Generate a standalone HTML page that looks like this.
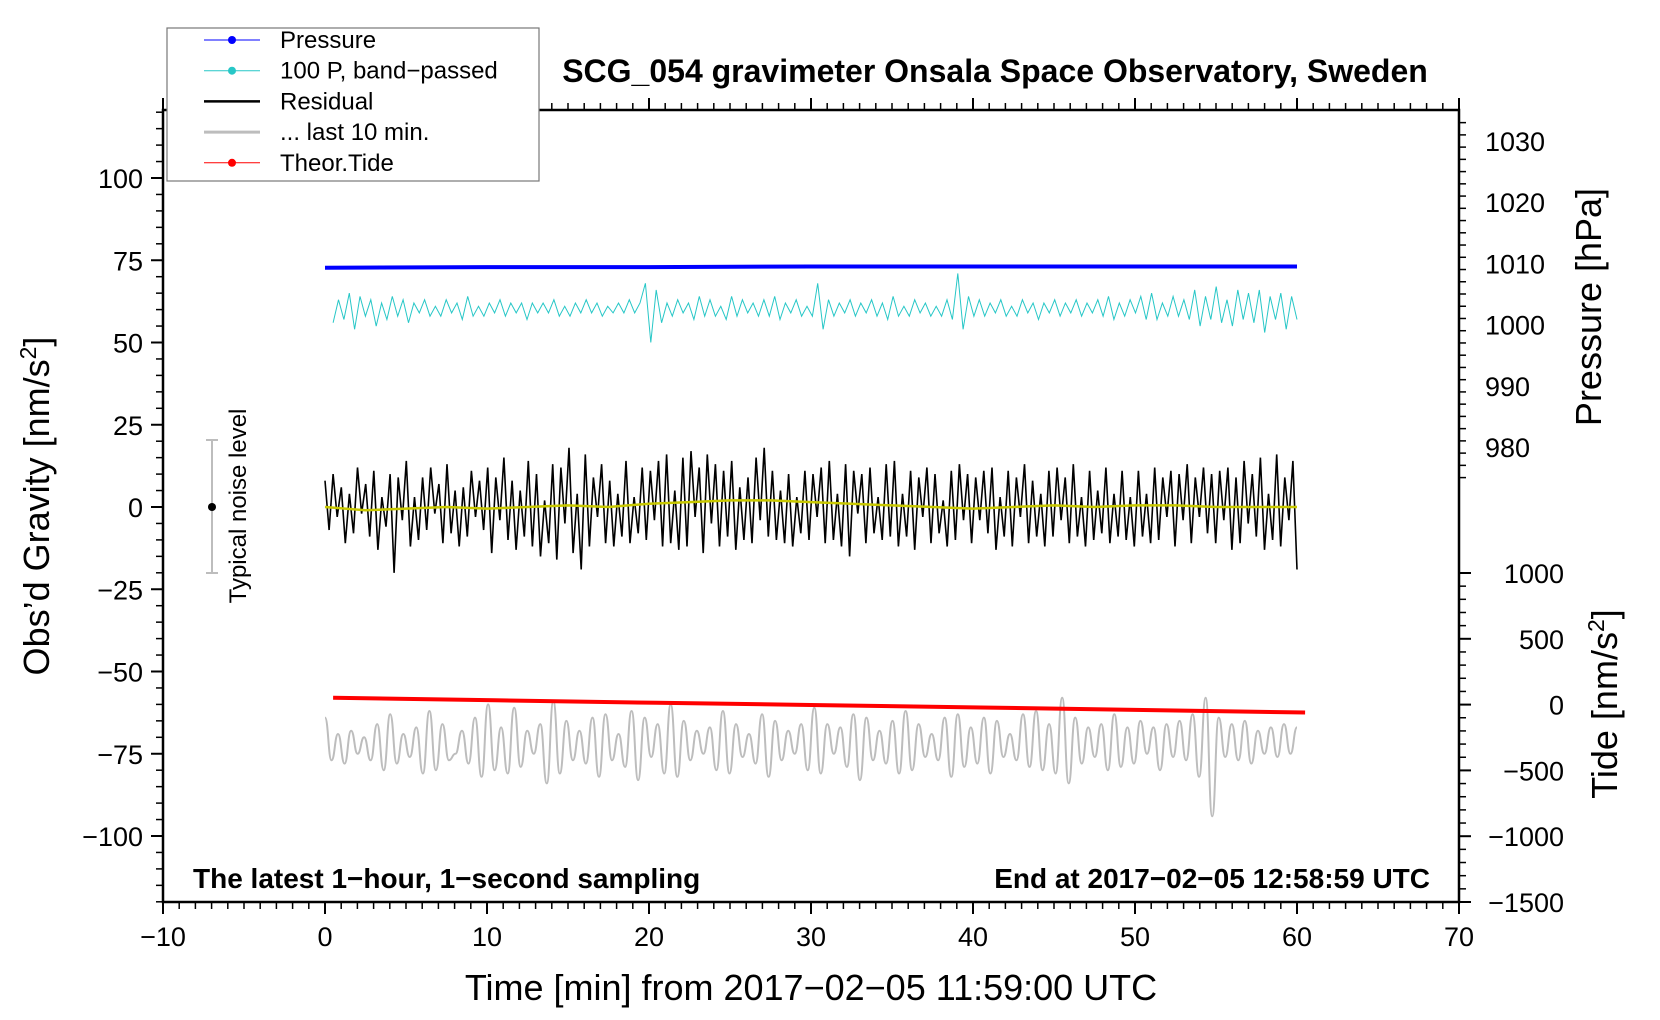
<!DOCTYPE html>
<html><head><meta charset="utf-8"><style>
html,body{margin:0;padding:0;background:#fff;}
svg{display:block;font-family:"Liberation Sans",Arial,sans-serif;}
</style></head><body>
<svg id="chart" width="1660" height="1020" viewBox="0 0 1660 1020">
<rect width="1660" height="1020" fill="#fff"/>
</svg>
<script>
// ----- data -----
const residual = [8,-7,10,-3,6,-11,4,-8,12,-2,7,-9,11,-13,3,-6,10,-20,9,-4,
14,-12,3,-10,9,-7,12,-2,7,-11,13,-8,5,-12,6,-9,11,-3,8,-7,
12,-14,9,-4,15,-10,8,-13,5,-9,14,-12,10,-15,2,-11,13,-16,12,-5,
18,-14,4,-19,16,-12,9,-3,13,-11,8,-12,4,-9,14,-11,3,-8,12,-10,
11,-4,14,-12,16,-11,5,-13,15,-12,17,-3,12,-14,16,-5,13,-12,11,-9,
14,-13,6,-10,9,-11,15,-4,18,-9,11,-10,5,-11,10,-12,3,-8,11,-10,
10,-3,12,-11,14,-10,4,-12,13,-15,11,-2,10,-11,12,-8,3,-10,13,-9,
14,-12,4,-9,11,-13,9,-3,12,-11,10,-8,2,-12,11,-10,13,-4,10,-11,
9,-4,11,-8,12,-13,3,-9,11,-12,9,-3,13,-11,8,-9,4,-12,11,-9,
12,-4,9,-11,13,-9,3,-12,11,-10,5,-8,12,-11,4,-9,11,-10,3,-12,
11,-9,4,-11,12,-10,9,-3,11,-12,10,-4,13,-11,9,-3,12,-8,10,-11,
11,-4,12,-13,9,-11,14,-5,10,-9,15,-13,4,-10,16,-12,9,-4,14,-19];
const smoothed = [0,-1,-0.5,0,-0.5,0,0.5,0,1,1.5,2,2,1.5,1,0.5,0,-0.5,0,0.5,0,0.5,0.5,0,0,0];
const bandPassed = [-4,3,-3,5,-6,4,-2,3,-5,2,-3,4,-2,3,-4,2,-1,3,-2,1,
-2,3,-1,2,-3,4,-2,1,-2,2,-1,3,-2,2,-1,2,-3,2,-1,2,
-1,3,-2,1,-2,2,-1,3,-1,2,-2,1,-1,2,-1,3,-1,2,8,-10,
6,-4,2,-2,3,-1,2,-3,4,-2,3,-2,1,-3,4,-2,3,-1,2,-2,
3,-2,4,-3,2,-1,3,-2,1,-2,8,-6,3,-2,2,-1,3,-2,2,-1,
3,-2,2,-3,4,-2,1,-2,3,-1,2,-2,1,-2,3,-3,11,-6,4,-2,
3,-2,2,-1,3,-2,1,-2,3,-1,2,-3,2,-1,3,-2,2,-1,3,-2,
2,-1,3,-2,4,-3,2,-2,3,-1,4,-3,5,-3,2,-2,4,-2,3,-3,
6,-5,4,-3,7,-4,3,-5,6,-3,5,-4,6,-7,4,-3,5,-6,4,-3];
const bandOffset = 60;
const last10 = [8,-5,3,-6,4,-3,2,-5,6,-8,9,-6,3,-4,5,-9,10,-8,6,-5,
-3,4,-6,8,-10,12,-8,5,-9,11,-7,4,-3,6,-12,13,-9,7,-5,4,
-6,8,-10,9,-5,3,-7,10,-11,8,-4,6,-9,12,-10,7,-5,4,-3,5,
-8,10,-9,6,-4,3,-6,9,-10,7,-5,4,-3,6,-8,11,-9,6,-3,5,
-7,9,-11,8,-5,4,-6,7,-9,10,-8,6,-4,3,-5,8,-10,9,-7,5,
-6,8,-9,7,-4,3,-5,9,-7,10,-8,6,-9,14,-12,8,-6,5,-4,6,
-8,9,-7,5,-6,7,-3,5,-8,6,-4,7,-5,9,-10,14,-22,8,-4,6,
-5,7,-6,4,-3,5,-4,6,-3,5];
const last10Offset = -72;
const pressure = [1009.3,1009.4,1009.4,1009.5,1009.5,1009.5,1009.5];
const pressureTimes = [0,10,20,30,40,50,60];
const tide = [52,33,14,-4,-22,-41,-60];
const tideTimes = [0.5,10.5,20.5,30.5,40.5,50.5,60.5];
const xTicks = [-10,0,10,20,30,40,50,60,70];
const yTicks = [100,75,50,25,0,-25,-50,-75,-100];
const pTicks = [980,990,1000,1010,1020,1030];
const tTicks = [1000,500,0,-500,-1000,-1500];

// ----- axes -----
const L=163,R=1459,T=110,B=902;
const X=t=>L+(t+10)*(R-L)/80;
const Y=v=>507-v*3.29;
const YP=p=>141+(1030-p)*6.12;
const YT=v=>704.6-v*0.1316;
const svg=document.getElementById('chart');
const NS='http://www.w3.org/2000/svg';
function el(tag,attrs,parent){const e=document.createElementNS(NS,tag);for(const k in attrs)e.setAttribute(k,attrs[k]);(parent||svg).appendChild(e);return e;}
function txt(s,attrs){const e=el('text',attrs);e.textContent=s;return e;}
function path(pts){return pts.map((p,i)=>(i?'L':'M')+p[0].toFixed(1)+','+p[1].toFixed(1)).join('');}
function smooth(pts){let d='M'+pts[0][0].toFixed(1)+','+pts[0][1].toFixed(1);
 for(let i=1;i<pts.length;i++){const a=pts[i-1],b=pts[i],mx=(a[0]+b[0])/2;d+='C'+mx.toFixed(1)+','+a[1].toFixed(1)+' '+mx.toFixed(1)+','+b[1].toFixed(1)+' '+b[0].toFixed(1)+','+b[1].toFixed(1);}return d;}

let e;
e=el('path',{d:smooth(last10.map((v,i)=>[X(i*60/(last10.length-1)),Y(last10Offset+v)])),fill:'none',stroke:'#bdbdbd','stroke-width':2});


e=el('path',{d:path(bandPassed.map((v,i)=>[X(0.5+i*59.5/(bandPassed.length-1)),Y(bandOffset+v)])),fill:'none',stroke:'#27c7c7','stroke-width':1});


e=el('path',{d:path(residual.map((v,i)=>[X(i*60/(residual.length-1)),Y(v)])),fill:'none',stroke:'#000','stroke-width':1.6});


e=el('path',{d:path(smoothed.map((v,i)=>[X(i*60/(smoothed.length-1)),Y(v)])),fill:'none',stroke:'#c8c800','stroke-width':2.5});


e=el('path',{d:path(pressure.map((v,i)=>[X(pressureTimes[i]),YP(v)])),fill:'none',stroke:'#0000ff','stroke-width':4});


e=el('path',{d:path(tide.map((v,i)=>[X(tideTimes[i]),YT(v)])),fill:'none',stroke:'#ff0000','stroke-width':4});



e=el('rect',{x:L,y:T,width:R-L,height:B-T,fill:'none',stroke:'#000','stroke-width':2.5});



for(let t=-10;t<=70;t++){const maj=t%10===0;el('line',{x1:X(t),x2:X(t),y1:B,y2:B+(maj?12:7),stroke:'#000','stroke-width':maj?2:1.5});
 el('line',{x1:X(t),x2:X(t),y1:T,y2:T-(maj?12:7),stroke:'#000','stroke-width':maj?2:1.5});}
xTicks.forEach(t=>{e=txt(String(t).replace('-','\u2212'),{x:X(t),y:946,'font-size':27,'text-anchor':'middle'});

});
for(let v=-120;v<=120;v+=5){const maj=v%25===0;el('line',{x1:L,x2:L-(maj?12:7),y1:Y(v),y2:Y(v),stroke:'#000','stroke-width':maj?2:1.5});}
yTicks.forEach(v=>{e=txt(String(v).replace('-','\u2212'),{x:L-20,y:Y(v)+10,'font-size':27,'text-anchor':'end'});

});
for(let p=975;p<=1033;p+=2){if(YP(p)<T)continue;const maj=p%10===0;el('line',{x1:R,x2:R+(maj?12:7),y1:YP(p),y2:YP(p),stroke:'#000','stroke-width':maj?2:1.5});}
pTicks.forEach(p=>{e=txt(String(p),{x:R+26,y:YP(p)+10,'font-size':27});

});
for(let v=-1500;v<=1000;v+=100){const maj=v%500===0;el('line',{x1:R,x2:R+(maj?12:7),y1:YT(v),y2:YT(v),stroke:'#000','stroke-width':maj?2:1.5});}
tTicks.forEach(v=>{e=txt(String(v).replace('-','\u2212'),{x:1564,y:YT(v)+10,'font-size':27,'text-anchor':'end'});

});

el('line',{x1:212,x2:212,y1:440,y2:573,stroke:'#bdbdbd','stroke-width':2});
el('line',{x1:206,x2:218,y1:440,y2:440,stroke:'#bdbdbd','stroke-width':2});
el('line',{x1:206,x2:218,y1:573,y2:573,stroke:'#bdbdbd','stroke-width':2});
e=el('circle',{cx:212,cy:507,r:4,fill:'#000'});


e=txt('Typical noise level',{x:0,y:0,'font-size':24,'text-anchor':'middle',transform:'translate(246,506) rotate(-90)'});



e=txt('SCG_054 gravimeter Onsala Space Observatory, Sweden',{x:995,y:82,'font-size':32,'font-weight':'bold','text-anchor':'middle'});


e=txt('Time [min] from 2017\u221202\u221205 11:59:00 UTC',{x:811,y:1000,'font-size':36,'text-anchor':'middle'});


e=el('text',{x:0,y:0,'font-size':36,'text-anchor':'middle',transform:'translate(49,506) rotate(-90)'});
e.innerHTML='Obs\u2019d Gravity [nm/s<tspan dy="-13" font-size="23">2</tspan><tspan dy="13">]</tspan>';


e=txt('Pressure [hPa]',{x:0,y:0,'font-size':36,'text-anchor':'middle',transform:'translate(1601,307) rotate(-90)'});


e=el('text',{x:0,y:0,'font-size':36,'text-anchor':'middle',transform:'translate(1617,704) rotate(-90)'});
e.innerHTML='Tide [nm/s<tspan dy="-13" font-size="23">2</tspan><tspan dy="13">]</tspan>';


e=txt('The latest 1\u2212hour, 1\u2212second sampling',{x:193,y:888,'font-size':28,'font-weight':'bold'});


e=txt('End at 2017\u221202\u221205 12:58:59 UTC',{x:1430,y:888,'font-size':28,'font-weight':'bold','text-anchor':'end'});



const lg=el('g',{});


el('rect',{x:167,y:28,width:372,height:153,fill:'#fff',stroke:'#777','stroke-width':1.2},lg);
const items=[['Pressure','#0000ff',1,true],['100 P, band\u2212passed','#27c7c7',1,true],['Residual','#000',2.5,false],['... last 10 min.','#bdbdbd',3,false],['Theor.Tide','#ff0000',1,true]];
items.forEach((it,i)=>{const y=40+i*30.7;
 const g=el('g',{},lg);
 
 
 el('line',{x1:204,x2:260,y1:y,y2:y,stroke:it[1],'stroke-width':it[2]},g);
 if(it[3])el('circle',{cx:232,cy:y,r:4,fill:it[1]},g);
 const t=el('text',{x:280,y:y+8,'font-size':24},g);t.textContent=it[0];});
</script>
</body></html>
